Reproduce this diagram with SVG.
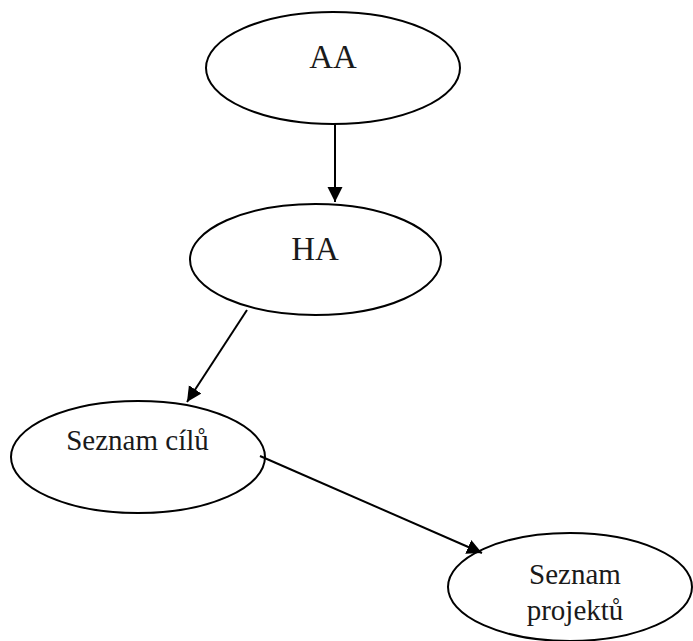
<svg xmlns="http://www.w3.org/2000/svg" width="693" height="641" viewBox="0 0 693 641">
<style>
.node ellipse{fill:#fff;stroke:#000;stroke-width:2}
.node text{font-family:"Liberation Serif","Times New Roman",serif;fill:#1a1a1a;text-anchor:middle}
.big{font-size:33px}
.small{font-size:29px}
.conn line{stroke:#000;stroke-width:2}
</style>
<defs>
<marker id="arr" markerUnits="userSpaceOnUse" markerWidth="16" markerHeight="16" refX="15" refY="7.5" orient="auto" viewBox="0 0 16 16">
<path d="M0,0 L15,7.5 L0,15 z" fill="#000"/>
</marker>
</defs>
<rect width="693" height="641" fill="#fff"/>
<g id="aa" class="node">
<ellipse cx="333" cy="68" rx="127" ry="56"/>
<text class="big" x="333" y="68">AA</text>
</g>
<g id="ha" class="node">
<ellipse cx="315.5" cy="259.5" rx="125.5" ry="55.5"/>
<text class="big" x="315" y="260">HA</text>
</g>
<g id="seznam-cilu" class="node">
<ellipse cx="138" cy="457" rx="127" ry="56"/>
<text class="small" x="137.5" y="450">Seznam cílů</text>
</g>
<g id="seznam-projektu" class="node">
<ellipse cx="570" cy="587" rx="122" ry="54"/>
<text class="small" x="575" y="584">Seznam</text>
<text class="small" x="575" y="620">projektů</text>
</g>
<g id="connectors" class="conn">
<line x1="335" y1="124" x2="335" y2="202" marker-end="url(#arr)"/>
<line x1="247" y1="310" x2="187" y2="402" marker-end="url(#arr)"/>
<line x1="260" y1="456" x2="482" y2="553" marker-end="url(#arr)"/>
</g>
</svg>
